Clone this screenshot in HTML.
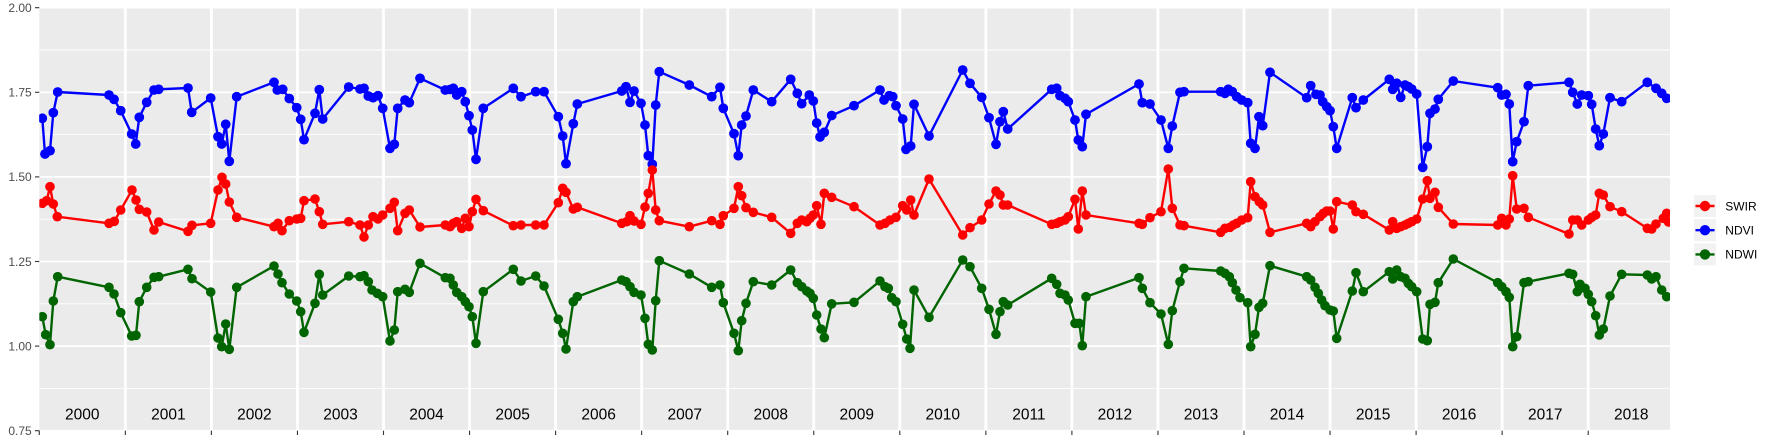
<!DOCTYPE html>
<html>
<head>
<meta charset="utf-8">
<style>
html,body{margin:0;padding:0;background:#fff;}
svg{display:block;}
text{font-family:"Liberation Sans",Arial,sans-serif;}
</style>
</head>
<body>
<svg width="1773" height="442" viewBox="0 0 1773 442" xmlns="http://www.w3.org/2000/svg">
<defs>
<clipPath id="pc"><rect x="39.3" y="7.7" width="1630.7" height="423"/></clipPath>
<marker id="mb" markerWidth="12" markerHeight="12" refX="6" refY="6" markerUnits="userSpaceOnUse" overflow="visible"><circle cx="6" cy="6" r="4.8" fill="#0000FF"/></marker>
<marker id="mr" markerWidth="12" markerHeight="12" refX="6" refY="6" markerUnits="userSpaceOnUse" overflow="visible"><circle cx="6" cy="6" r="4.8" fill="#FF0000"/></marker>
<marker id="mg" markerWidth="12" markerHeight="12" refX="6" refY="6" markerUnits="userSpaceOnUse" overflow="visible"><circle cx="6" cy="6" r="4.8" fill="#006400"/></marker>
</defs>

<!-- panel -->
<rect x="39.3" y="7.7" width="1630.7" height="423" fill="#EBEBEB"/>
<g stroke="#FFFFFF" stroke-width="0.9">
<line x1="39.3" x2="1670" y1="50" y2="50"/>
<line x1="39.3" x2="1670" y1="134.6" y2="134.6"/>
<line x1="39.3" x2="1670" y1="219.2" y2="219.2"/>
<line x1="39.3" x2="1670" y1="303.8" y2="303.8"/>
<line x1="39.3" x2="1670" y1="388.4" y2="388.4"/>
</g>
<g stroke="#FFFFFF" stroke-width="1.7">
<line x1="39.3" x2="1670" y1="7.7" y2="7.7"/>
<line x1="39.3" x2="1670" y1="92.3" y2="92.3"/>
<line x1="39.3" x2="1670" y1="176.9" y2="176.9"/>
<line x1="39.3" x2="1670" y1="261.5" y2="261.5"/>
<line x1="39.3" x2="1670" y1="346.1" y2="346.1"/>
<line x1="39.3" x2="1670" y1="430.7" y2="430.7"/>
</g>
<g stroke="#FFFFFF" stroke-width="2.8">
<line x1="125.35" x2="125.35" y1="7.7" y2="430.7"/>
<line x1="211.4" x2="211.4" y1="7.7" y2="430.7"/>
<line x1="297.45" x2="297.45" y1="7.7" y2="430.7"/>
<line x1="383.5" x2="383.5" y1="7.7" y2="430.7"/>
<line x1="469.55" x2="469.55" y1="7.7" y2="430.7"/>
<line x1="555.6" x2="555.6" y1="7.7" y2="430.7"/>
<line x1="641.65" x2="641.65" y1="7.7" y2="430.7"/>
<line x1="727.7" x2="727.7" y1="7.7" y2="430.7"/>
<line x1="813.75" x2="813.75" y1="7.7" y2="430.7"/>
<line x1="899.8" x2="899.8" y1="7.7" y2="430.7"/>
<line x1="985.85" x2="985.85" y1="7.7" y2="430.7"/>
<line x1="1071.9" x2="1071.9" y1="7.7" y2="430.7"/>
<line x1="1157.95" x2="1157.95" y1="7.7" y2="430.7"/>
<line x1="1244" x2="1244" y1="7.7" y2="430.7"/>
<line x1="1330.05" x2="1330.05" y1="7.7" y2="430.7"/>
<line x1="1416.1" x2="1416.1" y1="7.7" y2="430.7"/>
<line x1="1502.15" x2="1502.15" y1="7.7" y2="430.7"/>
<line x1="1588.2" x2="1588.2" y1="7.7" y2="430.7"/>
</g>

<!-- year labels -->
<g font-size="15.5" fill="#000" text-anchor="middle">
<text x="82.3" y="419.5">2000</text>
<text x="168.4" y="419.5">2001</text>
<text x="254.4" y="419.5">2002</text>
<text x="340.5" y="419.5">2003</text>
<text x="426.5" y="419.5">2004</text>
<text x="512.6" y="419.5">2005</text>
<text x="598.6" y="419.5">2006</text>
<text x="684.7" y="419.5">2007</text>
<text x="770.7" y="419.5">2008</text>
<text x="856.8" y="419.5">2009</text>
<text x="942.8" y="419.5">2010</text>
<text x="1028.9" y="419.5">2011</text>
<text x="1114.9" y="419.5">2012</text>
<text x="1201" y="419.5">2013</text>
<text x="1287" y="419.5">2014</text>
<text x="1373.1" y="419.5">2015</text>
<text x="1459.1" y="419.5">2016</text>
<text x="1545.2" y="419.5">2017</text>
<text x="1631.2" y="419.5">2018</text>
</g>

<g clip-path="url(#pc)">
<g fill="none" stroke-width="2.4" stroke-linejoin="round">
<polyline id="ndvi" stroke="#0000FF" points="42.3,118.3 45,154 50,150.7 53.3,112.7 57.7,92 109,95 114,99.3 120.7,110.7 131.7,134 135.7,144 139.3,117.3 146.7,102.3 154,90 158.7,89.3 188,88 191.7,112.3 210.7,98 218,136.7 221.7,144 225.7,124.3 229.3,161.3 236.7,96.7 274,82.3 277.3,90 282.7,89.3 289.3,98.5 296.7,107.7 300.7,119.3 304,139.7 315,113.3 319.3,89.7 322.7,119 348.7,87 360,89 364,88.3 368.3,96 373,97.7 378,95.7 382.7,108.3 390,148.3 394.3,144.3 397.7,108.3 405,100 409.3,102.7 420,78.3 445.3,90 450,89.5 453.3,88.3 456.7,95 461.7,91.7 465.3,101.7 469,115.7 472.3,130 476,159.3 483.3,108.3 513.3,88.3 521,96.7 535.7,91.7 544,91.7 558.3,116.7 562.7,136 566,163.7 573.3,123.7 577.3,104 621.7,91 626,86.7 630,102.3 634,91 641,103.3 645,125 648.3,155.7 652.3,164.3 655.7,105 659.3,71.7 689.3,85 711.7,96.7 720,87.3 723.3,108.3 734,133.7 738.3,155.7 741.7,125 746,116 753.3,90 771.7,101.7 790.7,79.3 797.3,93.3 801.7,103.7 809.3,95 813.3,101 816.7,123 820,137 824.3,132.3 831.7,115.5 854,105.7 880,90 884,100 889.3,95.7 892.7,96.7 896,105.7 902.7,119 906,149.3 910.7,146 914,104.3 929,136 962.7,70 970,83.3 981.7,97.3 989,117.7 996,144.3 1000,121.7 1003.3,111.7 1007.7,129 1051.7,89.3 1056.7,88.3 1060,95.7 1065,98.3 1068.3,101.7 1075,120 1078.3,140 1082.3,146.7 1086,114.3 1139,84 1142.3,102.7 1150,104 1161,120 1168.3,148.3 1172.3,126 1180,92.3 1184,91.7 1220.7,91.7 1225,93.3 1228.3,89.3 1232.3,91.7 1236.7,96.7 1241.7,100 1247.7,102.7 1250.7,143.3 1255,148.3 1259,116.7 1262.7,125.7 1270,72.3 1306.7,97.7 1310.7,85.7 1316,94.3 1320,95 1322.7,101.7 1326.7,106.7 1330,110.7 1333.3,126.7 1336.7,148.3 1352.3,97.7 1356,107.7 1363.3,100 1389.3,79.3 1392.7,89.3 1396.7,83.3 1400.7,97.3 1405,85 1408.3,86.7 1411.7,89 1416.7,94 1422.7,167.3 1427.3,146.7 1430,113.3 1435,109 1438.3,99.3 1453.3,81 1497.7,87.7 1501.7,95 1506,94.3 1509.3,104 1512.7,161.7 1516.7,141.7 1524,121.7 1528.3,85.7 1569,82.3 1572.7,92.3 1577.3,104 1581.7,95 1588.3,95.7 1591.7,104.3 1595.7,129 1599.3,145.7 1603.3,134 1610,97.7 1621.7,101.7 1647.3,82.3 1656,88.3 1661.7,93.3 1666.7,98.3"/>
<polyline id="swir" stroke="#FF0000" points="42.3,203.3 46.7,200.7 50,186.7 53.3,204 57.3,216.7 109,223.3 114.3,221.3 120.7,210 132,190 136,200 139.3,209.3 146.7,212 154,230 158.7,222 188,231.3 192,225.3 210.7,223.3 218,190 222,177.3 225.7,184 229.3,202 236.7,217.3 274,226.7 278,223.3 282,230.7 289.3,220.7 296.7,219 300.7,218.3 304,200.7 315,199 319.3,211.7 322.7,224.3 348.7,221.7 360,225 364,237 368.3,225 373,216.7 378,219 382.7,215 390,208.3 394.3,202.3 397.7,230.7 405,213.3 409.3,210 420,227 445.3,225 450,226.7 453.3,223.3 456.7,221.7 461.7,228.3 465.3,218.3 469,226.7 472.3,211.7 476,199.3 483.3,210.7 513.3,225.7 521,225 535.7,225 544,225 558.3,202.7 562.7,188.3 566,192.3 573.3,209 577.3,207.3 621.7,223.3 626.7,221.7 630,215.7 634,221 641,224.3 645,207 648.3,193.3 652.3,170 655.7,210 659.3,220.7 689.3,226.7 711.7,220.7 720,224.3 723.3,215.7 734,208.3 738.3,186.7 741.7,195.7 746,207.7 753.3,212.3 771.7,217.3 790.7,233.3 797.3,223.3 801.7,220 806.7,221.7 810,218.3 813.3,215 816.7,205.7 821,224.3 824.3,193.3 831.7,197.3 854,206.7 880,225 885,223.3 890,220 896,217.3 902.7,205.7 906.7,210 910.7,200 914,215 929,179 962.7,235 970,227.7 981.7,220 989,204 996,191 1000,195 1003.3,205 1007.7,205 1051.7,224.3 1056.7,223.3 1060,221.7 1065,220 1068.3,216.7 1075,199.3 1078.3,229 1082.3,191 1086,215 1139,223.3 1142.3,224.3 1150,217.7 1161,211.7 1168.3,169 1172.3,208.3 1180,225 1184,225.7 1220.7,232.3 1225,228.3 1230,227.3 1233.3,225 1236.7,223.3 1241.7,220 1247.7,217.7 1250.7,181.7 1255,196.7 1259.3,201.7 1262.7,205 1270,232.3 1306.7,223.3 1310.7,226.7 1315,221.7 1320,216.7 1323.3,213.3 1326.7,211 1330,211 1333.3,229 1336.7,201.7 1352.3,205 1356,211.7 1363.3,214.3 1389.3,230 1392.7,221.7 1396.7,228.3 1400.7,226.7 1405,225 1408.3,223.3 1411.7,221.7 1416.7,219 1422.7,199 1427.3,180.7 1430,198.3 1435,192.3 1438.3,207.3 1453.3,224 1497.7,225 1501.7,218.3 1506,225 1509.3,219 1512.7,175.7 1516.7,209 1524,208.3 1528.3,217.3 1569,234 1572.7,220 1577.3,220 1581.7,225 1588.3,220 1591.7,217.3 1595.7,215 1599.3,193.3 1603.3,195 1610,206.7 1621.7,211.7 1647.3,228.3 1651.7,229 1656,224 1663.3,218.3 1666.7,213.3 1668.5,222"/>
<polyline id="ndwi" stroke="#006400" points="42.3,316.7 45.7,334.7 50,344.7 53.3,301 57.7,276.7 109,287.3 114,294 120.7,312.7 131.7,336 136,335.3 139.3,301.7 146.7,287.3 154,277.3 158.7,276.7 188,269.3 192,278.7 210.7,292 218,338 221.7,346.7 225.7,324 229.3,349.3 236.7,287.3 274,266 278,274 282,282.7 289.3,294 296.7,301 300.7,311.7 304,332.3 315,303.3 319.3,274.3 322.7,295 348.7,276 360,276.7 364,275.7 368.3,281.7 372,290 377.3,293.3 382.7,296.7 390,341 394.3,330 397.7,291.7 405,289.3 409.3,292.3 420,263.3 445.3,277.7 450,278.3 453.3,285 456.7,292.3 461.7,296.7 465.3,301.7 469,306.7 472.3,316.7 476,343.3 483.3,291.7 513.3,269.3 521,281 535.7,276 544,286 558.3,319.3 562.7,333.3 566,349 573.3,301.7 577.3,296.7 621.7,280 626,281.7 630,286.7 634,292.3 641,295 645,318.3 648.3,344.3 652.3,350 655.7,300.7 659.3,260.7 689.3,274 711.7,287.3 720,285 723.3,302.7 734,333.3 738.3,350.7 741.7,320.7 746,303.3 753.3,281.7 771.7,285 790.7,270 797.3,282.7 801.7,286.7 806.7,291 810,293.3 813.3,298.3 816.7,315 821,329 824.3,337.7 831.7,303.8 854,302.3 880,281 885,286.7 888.3,288.3 891.7,297.7 896,301.7 902.7,324.3 906.7,339 910,348.3 914,290 929,317.3 962.7,260 970,266.7 981.7,288.3 989,309.3 996,334.3 1000,311.7 1003.3,301.7 1007.7,305 1051.7,278.3 1056.7,284.3 1060,293.3 1065,295 1068.3,300 1075,323.3 1079.3,323.3 1082.3,345.7 1086,296.7 1139,277.7 1142.3,288.3 1150,302.7 1161,314 1168.3,344.3 1172.3,310.7 1180,281.7 1184,268.3 1220.7,271 1225,273.3 1229.3,276.7 1232.3,282.7 1236,290 1240,297.7 1247.7,302.7 1250.7,346.7 1255,334.3 1259,307.3 1262.7,303.3 1270,265.7 1306.7,276.7 1310.7,280 1315,287.3 1318.3,293.3 1321.7,300 1325,305.7 1330,310 1333.3,311 1336.7,338.3 1352.3,291 1356,272.7 1363.3,291.7 1389.3,271.7 1392.7,279 1396.7,270 1400.7,276.7 1405,278.3 1408.3,283.3 1411.7,286.7 1416.7,291.7 1422.7,339 1427.3,340.7 1430,304.3 1435,302.3 1438.3,282.7 1453.3,259 1497.7,282.7 1501.7,286.7 1506,291.7 1509.3,297.3 1512.7,346.7 1516.7,336.7 1524,282.7 1528.3,281.7 1569,273.3 1572.7,274.3 1577.3,291.7 1580,284.3 1585,288.3 1588.3,294.3 1591.7,301.7 1595.7,315.7 1599.3,335 1603.3,329 1610,296 1621.7,274.3 1647.3,275 1651.7,279 1656,276.7 1661.7,290 1666.7,296.7"/>
</g>
<g fill="none" stroke="none">
<use href="#ndvi" stroke="none" marker-start="url(#mb)" marker-mid="url(#mb)" marker-end="url(#mb)"/>
</g>
</g>

<!-- markers drawn via separate polylines (stroke none) -->
<g clip-path="url(#pc)" fill="none" stroke="none">
<polyline marker-start="url(#mb)" marker-mid="url(#mb)" marker-end="url(#mb)" points="42.3,118.3 45,154 50,150.7 53.3,112.7 57.7,92 109,95 114,99.3 120.7,110.7 131.7,134 135.7,144 139.3,117.3 146.7,102.3 154,90 158.7,89.3 188,88 191.7,112.3 210.7,98 218,136.7 221.7,144 225.7,124.3 229.3,161.3 236.7,96.7 274,82.3 277.3,90 282.7,89.3 289.3,98.5 296.7,107.7 300.7,119.3 304,139.7 315,113.3 319.3,89.7 322.7,119 348.7,87 360,89 364,88.3 368.3,96 373,97.7 378,95.7 382.7,108.3 390,148.3 394.3,144.3 397.7,108.3 405,100 409.3,102.7 420,78.3 445.3,90 450,89.5 453.3,88.3 456.7,95 461.7,91.7 465.3,101.7 469,115.7 472.3,130 476,159.3 483.3,108.3 513.3,88.3 521,96.7 535.7,91.7 544,91.7 558.3,116.7 562.7,136 566,163.7 573.3,123.7 577.3,104 621.7,91 626,86.7 630,102.3 634,91 641,103.3 645,125 648.3,155.7 652.3,164.3 655.7,105 659.3,71.7 689.3,85 711.7,96.7 720,87.3 723.3,108.3 734,133.7 738.3,155.7 741.7,125 746,116 753.3,90 771.7,101.7 790.7,79.3 797.3,93.3 801.7,103.7 809.3,95 813.3,101 816.7,123 820,137 824.3,132.3 831.7,115.5 854,105.7 880,90 884,100 889.3,95.7 892.7,96.7 896,105.7 902.7,119 906,149.3 910.7,146 914,104.3 929,136 962.7,70 970,83.3 981.7,97.3 989,117.7 996,144.3 1000,121.7 1003.3,111.7 1007.7,129 1051.7,89.3 1056.7,88.3 1060,95.7 1065,98.3 1068.3,101.7 1075,120 1078.3,140 1082.3,146.7 1086,114.3 1139,84 1142.3,102.7 1150,104 1161,120 1168.3,148.3 1172.3,126 1180,92.3 1184,91.7 1220.7,91.7 1225,93.3 1228.3,89.3 1232.3,91.7 1236.7,96.7 1241.7,100 1247.7,102.7 1250.7,143.3 1255,148.3 1259,116.7 1262.7,125.7 1270,72.3 1306.7,97.7 1310.7,85.7 1316,94.3 1320,95 1322.7,101.7 1326.7,106.7 1330,110.7 1333.3,126.7 1336.7,148.3 1352.3,97.7 1356,107.7 1363.3,100 1389.3,79.3 1392.7,89.3 1396.7,83.3 1400.7,97.3 1405,85 1408.3,86.7 1411.7,89 1416.7,94 1422.7,167.3 1427.3,146.7 1430,113.3 1435,109 1438.3,99.3 1453.3,81 1497.7,87.7 1501.7,95 1506,94.3 1509.3,104 1512.7,161.7 1516.7,141.7 1524,121.7 1528.3,85.7 1569,82.3 1572.7,92.3 1577.3,104 1581.7,95 1588.3,95.7 1591.7,104.3 1595.7,129 1599.3,145.7 1603.3,134 1610,97.7 1621.7,101.7 1647.3,82.3 1656,88.3 1661.7,93.3 1666.7,98.3"/>
<polyline marker-start="url(#mr)" marker-mid="url(#mr)" marker-end="url(#mr)" points="42.3,203.3 46.7,200.7 50,186.7 53.3,204 57.3,216.7 109,223.3 114.3,221.3 120.7,210 132,190 136,200 139.3,209.3 146.7,212 154,230 158.7,222 188,231.3 192,225.3 210.7,223.3 218,190 222,177.3 225.7,184 229.3,202 236.7,217.3 274,226.7 278,223.3 282,230.7 289.3,220.7 296.7,219 300.7,218.3 304,200.7 315,199 319.3,211.7 322.7,224.3 348.7,221.7 360,225 364,237 368.3,225 373,216.7 378,219 382.7,215 390,208.3 394.3,202.3 397.7,230.7 405,213.3 409.3,210 420,227 445.3,225 450,226.7 453.3,223.3 456.7,221.7 461.7,228.3 465.3,218.3 469,226.7 472.3,211.7 476,199.3 483.3,210.7 513.3,225.7 521,225 535.7,225 544,225 558.3,202.7 562.7,188.3 566,192.3 573.3,209 577.3,207.3 621.7,223.3 626.7,221.7 630,215.7 634,221 641,224.3 645,207 648.3,193.3 652.3,170 655.7,210 659.3,220.7 689.3,226.7 711.7,220.7 720,224.3 723.3,215.7 734,208.3 738.3,186.7 741.7,195.7 746,207.7 753.3,212.3 771.7,217.3 790.7,233.3 797.3,223.3 801.7,220 806.7,221.7 810,218.3 813.3,215 816.7,205.7 821,224.3 824.3,193.3 831.7,197.3 854,206.7 880,225 885,223.3 890,220 896,217.3 902.7,205.7 906.7,210 910.7,200 914,215 929,179 962.7,235 970,227.7 981.7,220 989,204 996,191 1000,195 1003.3,205 1007.7,205 1051.7,224.3 1056.7,223.3 1060,221.7 1065,220 1068.3,216.7 1075,199.3 1078.3,229 1082.3,191 1086,215 1139,223.3 1142.3,224.3 1150,217.7 1161,211.7 1168.3,169 1172.3,208.3 1180,225 1184,225.7 1220.7,232.3 1225,228.3 1230,227.3 1233.3,225 1236.7,223.3 1241.7,220 1247.7,217.7 1250.7,181.7 1255,196.7 1259.3,201.7 1262.7,205 1270,232.3 1306.7,223.3 1310.7,226.7 1315,221.7 1320,216.7 1323.3,213.3 1326.7,211 1330,211 1333.3,229 1336.7,201.7 1352.3,205 1356,211.7 1363.3,214.3 1389.3,230 1392.7,221.7 1396.7,228.3 1400.7,226.7 1405,225 1408.3,223.3 1411.7,221.7 1416.7,219 1422.7,199 1427.3,180.7 1430,198.3 1435,192.3 1438.3,207.3 1453.3,224 1497.7,225 1501.7,218.3 1506,225 1509.3,219 1512.7,175.7 1516.7,209 1524,208.3 1528.3,217.3 1569,234 1572.7,220 1577.3,220 1581.7,225 1588.3,220 1591.7,217.3 1595.7,215 1599.3,193.3 1603.3,195 1610,206.7 1621.7,211.7 1647.3,228.3 1651.7,229 1656,224 1663.3,218.3 1666.7,213.3 1668.5,222"/>
<polyline marker-start="url(#mg)" marker-mid="url(#mg)" marker-end="url(#mg)" points="42.3,316.7 45.7,334.7 50,344.7 53.3,301 57.7,276.7 109,287.3 114,294 120.7,312.7 131.7,336 136,335.3 139.3,301.7 146.7,287.3 154,277.3 158.7,276.7 188,269.3 192,278.7 210.7,292 218,338 221.7,346.7 225.7,324 229.3,349.3 236.7,287.3 274,266 278,274 282,282.7 289.3,294 296.7,301 300.7,311.7 304,332.3 315,303.3 319.3,274.3 322.7,295 348.7,276 360,276.7 364,275.7 368.3,281.7 372,290 377.3,293.3 382.7,296.7 390,341 394.3,330 397.7,291.7 405,289.3 409.3,292.3 420,263.3 445.3,277.7 450,278.3 453.3,285 456.7,292.3 461.7,296.7 465.3,301.7 469,306.7 472.3,316.7 476,343.3 483.3,291.7 513.3,269.3 521,281 535.7,276 544,286 558.3,319.3 562.7,333.3 566,349 573.3,301.7 577.3,296.7 621.7,280 626,281.7 630,286.7 634,292.3 641,295 645,318.3 648.3,344.3 652.3,350 655.7,300.7 659.3,260.7 689.3,274 711.7,287.3 720,285 723.3,302.7 734,333.3 738.3,350.7 741.7,320.7 746,303.3 753.3,281.7 771.7,285 790.7,270 797.3,282.7 801.7,286.7 806.7,291 810,293.3 813.3,298.3 816.7,315 821,329 824.3,337.7 831.7,303.8 854,302.3 880,281 885,286.7 888.3,288.3 891.7,297.7 896,301.7 902.7,324.3 906.7,339 910,348.3 914,290 929,317.3 962.7,260 970,266.7 981.7,288.3 989,309.3 996,334.3 1000,311.7 1003.3,301.7 1007.7,305 1051.7,278.3 1056.7,284.3 1060,293.3 1065,295 1068.3,300 1075,323.3 1079.3,323.3 1082.3,345.7 1086,296.7 1139,277.7 1142.3,288.3 1150,302.7 1161,314 1168.3,344.3 1172.3,310.7 1180,281.7 1184,268.3 1220.7,271 1225,273.3 1229.3,276.7 1232.3,282.7 1236,290 1240,297.7 1247.7,302.7 1250.7,346.7 1255,334.3 1259,307.3 1262.7,303.3 1270,265.7 1306.7,276.7 1310.7,280 1315,287.3 1318.3,293.3 1321.7,300 1325,305.7 1330,310 1333.3,311 1336.7,338.3 1352.3,291 1356,272.7 1363.3,291.7 1389.3,271.7 1392.7,279 1396.7,270 1400.7,276.7 1405,278.3 1408.3,283.3 1411.7,286.7 1416.7,291.7 1422.7,339 1427.3,340.7 1430,304.3 1435,302.3 1438.3,282.7 1453.3,259 1497.7,282.7 1501.7,286.7 1506,291.7 1509.3,297.3 1512.7,346.7 1516.7,336.7 1524,282.7 1528.3,281.7 1569,273.3 1572.7,274.3 1577.3,291.7 1580,284.3 1585,288.3 1588.3,294.3 1591.7,301.7 1595.7,315.7 1599.3,335 1603.3,329 1610,296 1621.7,274.3 1647.3,275 1651.7,279 1656,276.7 1661.7,290 1666.7,296.7"/>
</g>

<!-- y axis -->
<g stroke="#333333" stroke-width="1.1">
<line x1="35" x2="39.3" y1="7.7" y2="7.7"/>
<line x1="35" x2="39.3" y1="92.3" y2="92.3"/>
<line x1="35" x2="39.3" y1="176.9" y2="176.9"/>
<line x1="35" x2="39.3" y1="261.5" y2="261.5"/>
<line x1="35" x2="39.3" y1="346.1" y2="346.1"/>
<line x1="35" x2="39.3" y1="430.7" y2="430.7"/>
</g>
<g font-size="12" fill="#4D4D4D" text-anchor="end">
<text x="31.7" y="12">2.00</text>
<text x="31.7" y="96.6">1.75</text>
<text x="31.7" y="181.2">1.50</text>
<text x="31.7" y="265.8">1.25</text>
<text x="31.7" y="350.4">1.00</text>
<text x="31.7" y="435">0.75</text>
</g>

<!-- x axis ticks -->
<g stroke="#333333" stroke-width="1.1">
<line x1="39.3" x2="39.3" y1="430.7" y2="435"/>
<line x1="125.35" x2="125.35" y1="430.7" y2="435"/>
<line x1="211.4" x2="211.4" y1="430.7" y2="435"/>
<line x1="297.45" x2="297.45" y1="430.7" y2="435"/>
<line x1="383.5" x2="383.5" y1="430.7" y2="435"/>
<line x1="469.55" x2="469.55" y1="430.7" y2="435"/>
<line x1="555.6" x2="555.6" y1="430.7" y2="435"/>
<line x1="641.65" x2="641.65" y1="430.7" y2="435"/>
<line x1="727.7" x2="727.7" y1="430.7" y2="435"/>
<line x1="813.75" x2="813.75" y1="430.7" y2="435"/>
<line x1="899.8" x2="899.8" y1="430.7" y2="435"/>
<line x1="985.85" x2="985.85" y1="430.7" y2="435"/>
<line x1="1071.9" x2="1071.9" y1="430.7" y2="435"/>
<line x1="1157.95" x2="1157.95" y1="430.7" y2="435"/>
<line x1="1244" x2="1244" y1="430.7" y2="435"/>
<line x1="1330.05" x2="1330.05" y1="430.7" y2="435"/>
<line x1="1416.1" x2="1416.1" y1="430.7" y2="435"/>
<line x1="1502.15" x2="1502.15" y1="430.7" y2="435"/>
<line x1="1588.2" x2="1588.2" y1="430.7" y2="435"/>
</g>

<!-- legend -->
<g>
<rect x="1694" y="195" width="22" height="22" fill="#F2F2F2"/>
<rect x="1694" y="219.2" width="22" height="22" fill="#F2F2F2"/>
<rect x="1694" y="243.4" width="22" height="22" fill="#F2F2F2"/>
<line x1="1695.5" x2="1714.5" y1="206" y2="206" stroke="#FF0000" stroke-width="2.4"/>
<circle cx="1705" cy="206" r="5.2" fill="#FF0000"/>
<line x1="1695.5" x2="1714.5" y1="230.2" y2="230.2" stroke="#0000FF" stroke-width="2.4"/>
<circle cx="1705" cy="230.2" r="5.2" fill="#0000FF"/>
<line x1="1695.5" x2="1714.5" y1="254.4" y2="254.4" stroke="#006400" stroke-width="2.4"/>
<circle cx="1705" cy="254.4" r="5.2" fill="#006400"/>
<g font-size="12" fill="#000">
<text x="1725.3" y="210.3">SWIR</text>
<text x="1725.3" y="234.5">NDVI</text>
<text x="1725.3" y="258.7">NDWI</text>
</g>
</g>
</svg>
</body>
</html>
